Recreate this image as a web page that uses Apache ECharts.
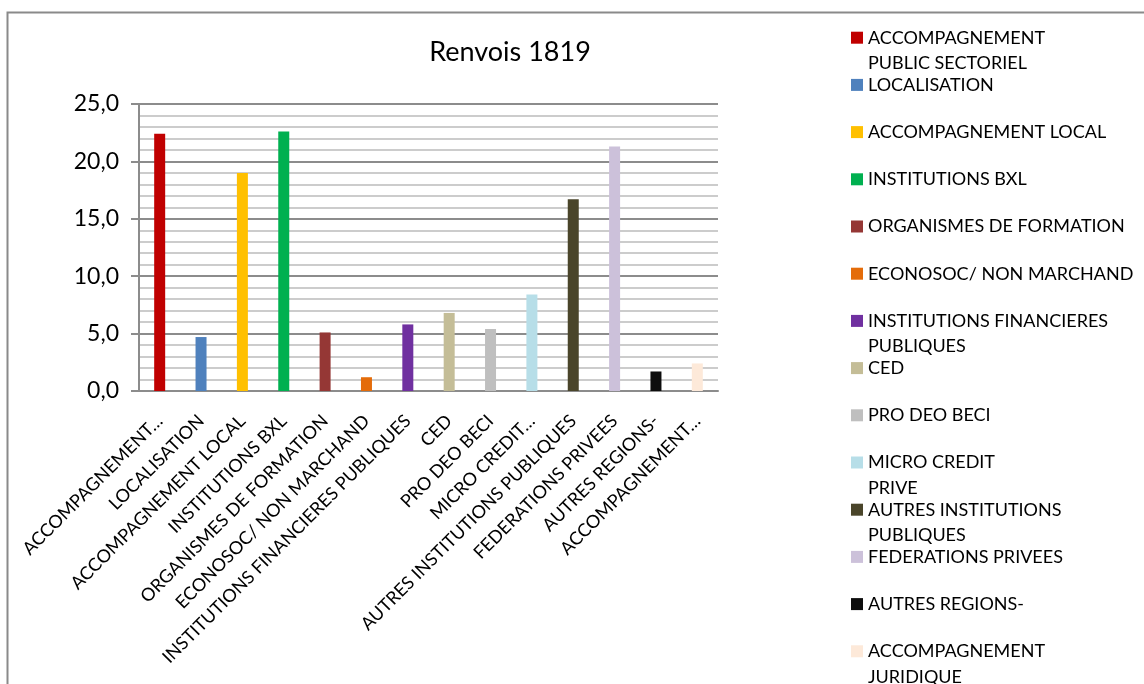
<!DOCTYPE html>
<html>
<head>
<meta charset="utf-8">
<script src="https://cdn.jsdelivr.net/npm/echarts@6/dist/echarts.min.js"></script>
<style>
html,body{margin:0;padding:0;background:#fff;}
#chart{width:1144px;height:684px;}
</style>
</head>
<body>
<div id="chart"></div>
<script>
const categories = [
  "ACCOMPAGNEMENT PUBLIC SECTORIEL",
  "LOCALISATION",
  "ACCOMPAGNEMENT LOCAL",
  "INSTITUTIONS BXL",
  "ORGANISMES DE FORMATION",
  "ECONOSOC/ NON MARCHAND",
  "INSTITUTIONS FINANCIERES PUBLIQUES",
  "CED",
  "PRO DEO BECI",
  "MICRO CREDIT PRIVE",
  "AUTRES INSTITUTIONS PUBLIQUES",
  "FEDERATIONS PRIVEES",
  "AUTRES REGIONS-",
  "ACCOMPAGNEMENT JURIDIQUE"
];
const values = [22.4, 4.7, 19.0, 22.6, 5.1, 1.2, 5.8, 6.8, 5.4, 8.4, 16.7, 21.3, 1.7, 2.4];
const tickLabels = [
  "ACCOMPAGNEMENT\u2026",
  "LOCALISATION",
  "ACCOMPAGNEMENT LOCAL",
  "INSTITUTIONS BXL",
  "ORGANISMES DE FORMATION",
  "ECONOSOC/ NON MARCHAND",
  "INSTITUTIONS FINANCIERES PUBLIQUES",
  "CED",
  "PRO DEO BECI",
  "MICRO CREDIT\u2026",
  "AUTRES INSTITUTIONS PUBLIQUES",
  "FEDERATIONS PRIVEES",
  "AUTRES REGIONS-",
  "ACCOMPAGNEMENT\u2026"
];
const legendLabels = [
  "ACCOMPAGNEMENT\nPUBLIC SECTORIEL",
  "LOCALISATION",
  "ACCOMPAGNEMENT LOCAL",
  "INSTITUTIONS BXL",
  "ORGANISMES DE FORMATION",
  "ECONOSOC/ NON MARCHAND",
  "INSTITUTIONS FINANCIERES\nPUBLIQUES",
  "CED",
  "PRO DEO BECI",
  "MICRO CREDIT\nPRIVE",
  "AUTRES INSTITUTIONS\nPUBLIQUES",
  "FEDERATIONS PRIVEES",
  "AUTRES REGIONS-",
  "ACCOMPAGNEMENT\nJURIDIQUE"
];
const colors = ["#C00000","#4F81BD","#FFC000","#00B050","#953735","#E46C0A","#7030A0","#C4BD97","#BFBFBF","#B7DEE8","#4A452A","#CCC1DA","#0D0D0D","#FDE9D9"];
const yTicks = [0, 5, 10, 15, 20, 25];

const FONT = "Lato";
const chart = echarts.init(document.getElementById('chart'), null, {renderer: 'canvas'});

const series = categories.map((name, i) => ({
  name: name,
  type: 'bar',
  barWidth: 11,
  barGap: '-100%',
  itemStyle: {color: colors[i]},
  data: categories.map((c, j) => j === i ? values[i] : '-')
}));

const LH = 25.5;
const legendStart = 37.7, legendStep = 47.2;
const legends = categories.map((name, i) => {
  const two = legendLabels[i].indexOf('\n') >= 0;
  const c = legendStart + i * legendStep;
  return {
    data: [name],
    left: 851,
    top: two ? c - 1.5 * LH : c - 0.5 * LH,
    padding: 0,
    icon: 'rect',
    itemWidth: 12,
    itemHeight: 12,
    selectedMode: false,
    formatter: () => (two ? '\n' : '') + legendLabels[i],
    textStyle: {fontFamily: FONT, fontSize: 18, color: '#000', lineHeight: LH}
  };
});

chart.setOption({
  animation: false,
  backgroundColor: '#fff',
  color: colors,
  title: {
    text: 'Renvois 1819',
    left: 505,
    top: 34,
    textAlign: 'center',
    textStyle: {fontFamily: FONT, fontSize: 27, fontWeight: 'normal', color: '#000'}
  },
  graphic: [{
    type: 'rect',
    shape: {x: 7.5, y: 12.5, width: 1300, height: 800},
    style: {fill: 'none', stroke: '#8a8a8a', lineWidth: 2},
    silent: true
  }],
  legend: legends,
  grid: {left: 139, right: 426, top: 104, bottom: 293, containLabel: false},
  xAxis: {
    type: 'category',
    data: categories,
    axisLine: {show: true, lineStyle: {color: '#8c8c8c', width: 2}},
    axisTick: {show: false},
    axisLabel: {
      interval: 0, rotate: 45, margin: 27,
      fontFamily: FONT, fontSize: 18, color: '#000',
      formatter: (v, idx) => tickLabels[idx]
    }
  },
  yAxis: {
    type: 'value',
    min: yTicks[0],
    max: yTicks[yTicks.length - 1],
    interval: 5,
    axisLine: {show: true, lineStyle: {color: '#8c8c8c', width: 2}},
    axisTick: {show: true, length: 8, lineStyle: {color: '#8c8c8c', width: 2}},
    axisLabel: {
      margin: 20, fontFamily: FONT, fontSize: 23, color: '#000',
      formatter: v => v.toFixed(1).replace('.', ',')
    },
    splitLine: {show: true, lineStyle: {color: '#8c8c8c', width: 2}},
    minorTick: {show: false, splitNumber: 5},
    minorSplitLine: {show: true, lineStyle: {color: '#bcbcbc', width: 1.5}}
  },
  series: series
});
</script>
</body>
</html>
